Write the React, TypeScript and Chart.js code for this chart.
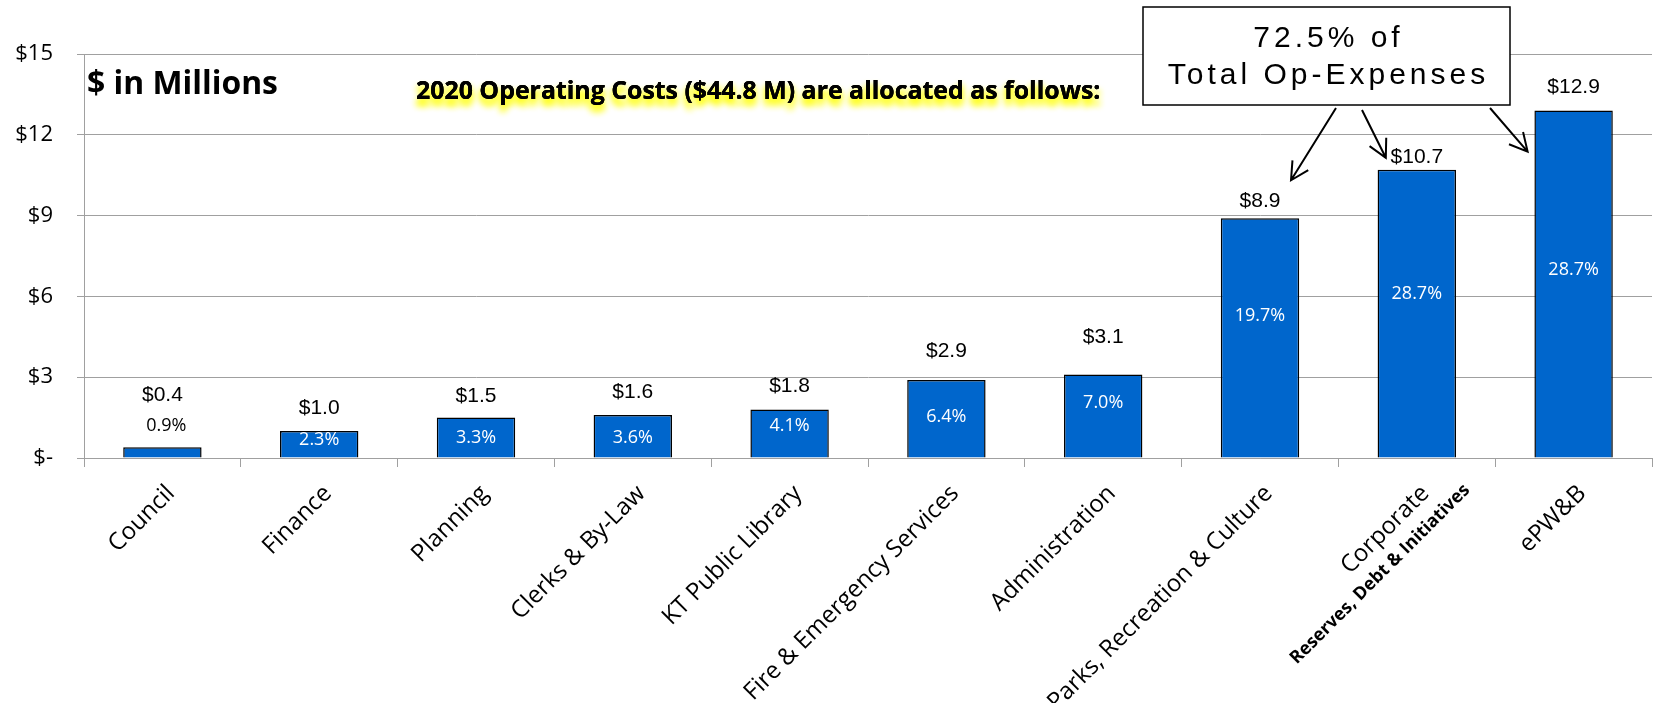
import React, { useEffect, useRef } from 'react';
import { Chart, registerables } from 'chart.js';

Chart.register(...registerables);

// ---------- DATA ----------
const categories = [
  'Council',
  'Finance',
  'Planning',
  'Clerks & By-Law',
  'KT Public Library',
  'Fire & Emergency Services',
  'Administration',
  'Parks, Recreation & Culture',
  'Corporate',
  'ePW&B',
];
const subCategories = ['', '', '', '', '', '', '', '', 'Reserves, Debt & Initiatives', ''];
const values = [0.4, 1.0, 1.5, 1.6, 1.8, 2.9, 3.1, 8.9, 10.7, 12.9];
const percentLabels = ['0.9%', '2.3%', '3.3%', '3.6%', '4.1%', '6.4%', '7.0%', '19.7%', '28.7%', '28.7%'];
const yTickValues = [0, 3, 6, 9, 12, 15];
const unitTitle = '$ in Millions';
const subtitle = '2020 Operating Costs ($44.8 M) are allocated as follows:';
const calloutLines = ['72.5% of', 'Total Op-Expenses'];
const calloutTargets = [7, 8, 9];

// ---------- LAYOUT (label placement, px) ----------
const valueLabelLift = [52, 23, 21, 23, 23, 29, 37, 17, 13, 23];
const percentLabelDrop = [-21, 9, 20, 23, 16, 37, 28, 98, 124, 159];
const arrowStarts = [
  [1336, 108],
  [1362, 110],
  [1490, 108],
];
const arrowEndOffsets = [
  [31, -38],
  [-31, -12],
  [-46, 41],
];

const CAL = '"Open Sans", "Noto Sans", sans-serif';
const ARIAL = '"Liberation Sans", Arial, sans-serif';
const GRID = '#a0a0a0';
const BAR = '#0066CC';

function fitSize(ctx: CanvasRenderingContext2D, text: string, weight: string, family: string, width: number) {
  ctx.font = `${weight} 100px ${family}`;
  return (100 * width) / ctx.measureText(text).width;
}

function drawArrow(ctx: CanvasRenderingContext2D, x1: number, y1: number, x2: number, y2: number) {
  const ang = Math.atan2(y2 - y1, x2 - x1);
  const head = 20;
  const spread = Math.PI / 6.5;
  ctx.beginPath();
  ctx.moveTo(x1, y1);
  ctx.lineTo(x2, y2);
  ctx.moveTo(x2 - head * Math.cos(ang - spread), y2 - head * Math.sin(ang - spread));
  ctx.lineTo(x2, y2);
  ctx.lineTo(x2 - head * Math.cos(ang + spread), y2 - head * Math.sin(ang + spread));
  ctx.stroke();
}

const annotations = {
  id: 'annotations',
  afterDraw(chart: any) {
    const ctx: CanvasRenderingContext2D = chart.ctx;
    const meta = chart.getDatasetMeta(0);
    const area = chart.chartArea;
    const xScale = chart.scales.x;
    ctx.save();

    // value labels + percentage labels
    meta.data.forEach((bar: any, i: number) => {
      ctx.textAlign = 'center';
      ctx.textBaseline = 'middle';
      ctx.fillStyle = '#000';
      ctx.font = `21px ${ARIAL}`;
      ctx.fillText('$' + values[i].toFixed(1), bar.x, bar.y - valueLabelLift[i]);
      const drop = percentLabelDrop[i];
      ctx.font = `18px ${CAL}`;
      ctx.fillStyle = drop < 0 ? '#000' : '#fff';
      ctx.fillText(percentLabels[i], bar.x + (drop < 0 ? 4 : 0), bar.y + drop);
    });

    // category labels (rotated)
    categories.forEach((label, i) => {
      const cx = xScale.getPixelForValue(i);
      ctx.save();
      ctx.translate(cx + 13.5, area.bottom + 36.5);
      ctx.rotate(-Math.PI / 4);
      ctx.textAlign = 'right';
      ctx.textBaseline = 'alphabetic';
      ctx.fillStyle = '#000';
      ctx.font = `24px ${CAL}`;
      ctx.fillText(label, 0, 0);
      if (subCategories[i]) {
        const ss = fitSize(ctx, subCategories[i], 'bold', CAL, 246);
        ctx.font = `bold ${ss}px ${CAL}`;
        ctx.fillText(subCategories[i], 31, 26);
      }
      ctx.restore();
    });

    // unit title
    ctx.fillStyle = '#000';
    ctx.textAlign = 'left';
    ctx.textBaseline = 'middle';
    const s1 = fitSize(ctx, unitTitle, 'bold', CAL, 191);
    ctx.font = `bold ${s1}px ${CAL}`;
    ctx.fillText(unitTitle, area.left + 3, 85);

    // subtitle with yellow glow
    const s2 = fitSize(ctx, subtitle, 'bold', CAL, 685);
    ctx.font = `bold ${s2}px ${CAL}`;
    ctx.save();
    ctx.shadowColor = 'rgba(255, 255, 0, 0.95)';
    ctx.shadowBlur = 7;
    ctx.shadowOffsetX = 0;
    ctx.shadowOffsetY = 6;
    ctx.fillText(subtitle, 416, 92);
    ctx.fillText(subtitle, 416, 92);
    ctx.restore();
    ctx.fillText(subtitle, 416, 92);

    // callout box
    const bx = 1143, by = 7, bw = 367, bh = 98;
    ctx.fillStyle = '#fff';
    ctx.fillRect(bx, by, bw, bh);
    ctx.strokeStyle = '#000';
    ctx.lineWidth = 1.5;
    ctx.strokeRect(bx, by, bw, bh);
    ctx.fillStyle = '#000';
    ctx.font = `30px ${ARIAL}`;
    (ctx as any).letterSpacing = '4px';
    ctx.textAlign = 'left';
    ctx.textBaseline = 'alphabetic';
    const baselines = [47, 84];
    calloutLines.forEach((t, k) => {
      const w = ctx.measureText(t).width - 4;
      ctx.fillText(t, bx + bw / 2 - w / 2, baselines[k]);
    });
    (ctx as any).letterSpacing = '0px';

    // arrows
    ctx.lineWidth = 2;
    ctx.strokeStyle = '#000';
    calloutTargets.forEach((idx, k) => {
      const bar = meta.data[idx];
      const [sx, sy] = arrowStarts[k];
      drawArrow(ctx, sx, sy, bar.x + arrowEndOffsets[k][0], bar.y + arrowEndOffsets[k][1]);
    });

    ctx.restore();
  },
};

export default function App() {
  const ref = useRef<HTMLCanvasElement | null>(null);
  useEffect(() => {
    if (!ref.current) return;
    const chart = new Chart(ref.current, {
      type: 'bar',
      data: {
        labels: categories,
        datasets: [
          {
            data: values,
            backgroundColor: BAR,
            borderColor: '#000',
            borderWidth: 1.5,
            barPercentage: 0.5,
            categoryPercentage: 1.0,
          },
        ],
      },
      options: {
        responsive: false,
        animation: false,
        devicePixelRatio: 1,
        layout: { padding: { top: 54, right: 4, left: 0, bottom: 0 } },
        plugins: { legend: { display: false }, tooltip: { enabled: false }, title: { display: false } },
        scales: {
          x: {
            grid: { display: true, drawOnChartArea: false, drawTicks: true, tickLength: 9, color: GRID, offset: true },
            border: { color: GRID, width: 1 },
            ticks: { display: false },
            afterFit: (s: any) => {
              s.height = 245;
            },
          },
          y: {
            min: 0,
            max: 15,
            afterBuildTicks: (s: any) => {
              s.ticks = yTickValues.map((v) => ({ value: v }));
            },
            ticks: {
              callback: (v: any) => (Number(v) === 0 ? '$-' : '$' + v),
              font: { family: CAL, size: 22 },
              color: '#000',
              padding: 24,
            },
            grid: { color: GRID, tickLength: 7 },
            border: { color: GRID, width: 1 },
            afterFit: (s: any) => {
              s.width = 84;
            },
          },
        },
      },
      plugins: [annotations],
    });
    return () => chart.destroy();
  }, []);
  return (
    <div style={{ position: 'absolute', left: 0, top: 0, width: 1656, height: 703, background: '#fff' }}>
      <canvas ref={ref} width={1656} height={703} style={{ width: 1656, height: 703, display: 'block' }} />
    </div>
  );
}
